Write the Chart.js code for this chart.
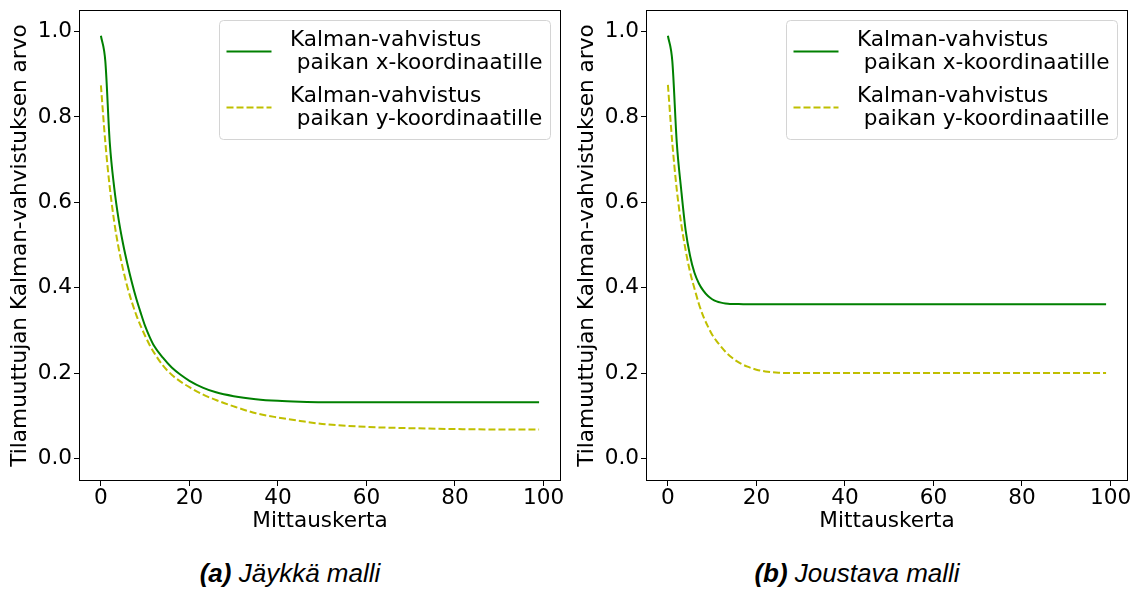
<!DOCTYPE html>
<html><head><meta charset="utf-8">
<script src="https://cdn.jsdelivr.net/npm/chart.js@4.4.1/dist/chart.umd.min.js"></script>
<style>
html,body{margin:0;padding:0;background:#fff;width:1140px;height:589px;overflow:hidden;position:relative;}
.wrap{position:absolute;top:0;width:570px;height:540px;}
.cap{position:absolute;font-family:"Liberation Sans",Arial,sans-serif;font-style:italic;font-size:26px;color:#000;white-space:nowrap;transform:translate(-50%,-50%);}
</style></head><body>
<div class="wrap" style="left:0"><canvas id="ca" width="570" height="540"></canvas></div>
<div class="wrap" style="left:567px"><canvas id="cb" width="570" height="540"></canvas></div>
<div class="cap" style="left:290px;top:573px"><b>(a)</b> Jäykkä malli</div>
<div class="cap" style="left:857px;top:573px"><b>(b)</b> Joustava malli</div>
<script>
// ---- data ----
const stepsA = [0,1,2,3,4,5,6,7,8,9,10,11,12,14,16,18,20,23,26,30,35,40,45,50,60,70,80,90,99];
const gainXA = [0.99,0.93,0.74,0.635,0.56,0.503,0.455,0.412,0.374,0.341,0.31,0.285,0.264,0.236,0.213,0.196,0.182,0.166,0.155,0.146,0.139,0.135,0.133,0.132,0.132,0.132,0.132,0.132,0.132];
const gainYA = [0.874,0.74,0.635,0.555,0.493,0.443,0.401,0.366,0.336,0.31,0.287,0.266,0.248,0.218,0.196,0.18,0.167,0.15,0.137,0.122,0.106,0.096,0.088,0.081,0.074,0.071,0.069,0.068,0.068];

const stepsB = [0,1,2,3,4,5,6,7,8,9,10,11,12,13,14,16,18,20,22,25,30,40,60,80,99];
const gainXB = [0.99,0.93,0.74,0.63,0.535,0.475,0.435,0.41,0.393,0.381,0.373,0.368,0.365,0.363,0.362,0.362,0.361,0.361,0.361,0.361,0.361,0.361,0.361,0.361,0.361];
const gainYB = [0.875,0.738,0.63,0.55,0.488,0.437,0.398,0.362,0.333,0.31,0.29,0.275,0.262,0.25,0.24,0.225,0.215,0.208,0.204,0.201,0.2,0.2,0.2,0.2,0.2];

const xTicks = [0,20,40,60,80,100];
const yTicks = [0.0,0.2,0.4,0.6,0.8,1.0];
const legendX = ['Kalman-vahvistus', ' paikan x-koordinaatille'];
const legendY = ['Kalman-vahvistus', ' paikan y-koordinaatille'];
const xTitle = 'Mittauskerta';
const yTitle = 'Tilamuuttujan Kalman-vahvistuksen arvo';

// ---- rendering ----
const FONT = 'DejaVu Sans';
const FS = 21.6;
Chart.defaults.font.family = FONT;
Chart.defaults.color = '#000';

const framePlugin = {
  id: 'frameLegend',
  afterDraw(chart) {
    const {ctx, chartArea: a} = chart;
    ctx.save();
    ctx.setLineDash([]);
    ctx.strokeStyle = '#000';
    ctx.lineWidth = 1;
    ctx.strokeRect(Math.round(a.left) + 0.5, Math.round(a.top) + 0.5,
                   Math.round(a.right - a.left) - 1, Math.round(a.bottom - a.top) - 1);
    // legend
    const w = 331, h = 119;
    const bx = Math.round(a.right - 11 - w) + 0.5, by = Math.round(a.top + 10) + 0.5;
    ctx.beginPath();
    ctx.roundRect(bx, by, w, h, 4);
    ctx.fillStyle = 'rgba(255,255,255,0.8)';
    ctx.fill();
    ctx.strokeStyle = '#d4d4d4';
    ctx.lineWidth = 1;
    ctx.stroke();
    const centers = [31, 87];
    chart.data.datasets.forEach((ds, i) => {
      const cy = by + centers[i];
      ctx.beginPath();
      ctx.setLineDash(ds.borderDash || []);
      ctx.strokeStyle = ds.borderColor;
      ctx.lineWidth = ds.borderWidth;
      ctx.moveTo(bx + 7, cy);
      ctx.lineTo(bx + 52, cy);
      ctx.stroke();
      ctx.setLineDash([]);
      ctx.fillStyle = '#000';
      ctx.font = FS + 'px "' + FONT + '"';
      ctx.textBaseline = 'middle';
      ctx.textAlign = 'left';
      ds.legendLines.forEach((t, j) => {
        ctx.fillText(t, bx + 70.5, cy - 11.5 + j * 23);
      });
    });
    ctx.restore();
  }
};

function makeChart(id, steps, gx, gy) {
  const toXY = (xs, ys) => xs.map((x, i) => ({x: x, y: ys[i]}));
  return new Chart(document.getElementById(id), {
    type: 'line',
    data: {
      datasets: [
        {label: legendX.join(''), legendLines: legendX, data: toXY(steps, gx), borderColor: '#008000',
         borderWidth: 2, pointRadius: 0, cubicInterpolationMode: 'monotone', fill: false, order: 1},
        {label: legendY.join(''), legendLines: legendY, data: toXY(steps, gy), borderColor: '#bfbf00',
         borderWidth: 2, borderDash: [7, 3], pointRadius: 0, cubicInterpolationMode: 'monotone', fill: false, order: 0}
      ]
    },
    options: {
      responsive: false,
      animation: false,
      devicePixelRatio: 1,
      layout: {padding: {left: 0, right: 9, top: 10, bottom: 0}},
      plugins: {legend: {display: false}, tooltip: {enabled: false}},
      scales: {
        x: {
          type: 'linear', min: -4.95, max: 103.95,
          afterBuildTicks: s => { s.ticks = xTicks.map(v => ({value: v})); },
          afterFit: s => { s.height = 59; s.paddingLeft = 0; s.paddingRight = 0; },
          border: {display: false},
          grid: {drawOnChartArea: false, drawTicks: true, tickLength: 5, color: '#000', lineWidth: 1},
          ticks: {padding: -1, color: '#000', font: {size: FS}, autoSkip: false, maxRotation: 0,
                  callback: v => String(v)},
          title: {display: true, text: xTitle, color: '#000', font: {size: FS}, padding: {top: 0, bottom: 6}}
        },
        y: {
          min: -0.0527, max: 1.0504,
          afterBuildTicks: s => { s.ticks = yTicks.map(v => ({value: v})); },
          afterFit: s => { s.width = 79; s.paddingTop = 0; s.paddingBottom = 0; },
          border: {display: false},
          grid: {drawOnChartArea: false, drawTicks: true, tickLength: 5, color: '#000', lineWidth: 1},
          ticks: {padding: 2, color: '#000', font: {size: FS}, autoSkip: false,
                  callback: v => Number(v).toFixed(1)},
          title: {display: true, text: yTitle, color: '#000', font: {size: FS}, padding: {top: 7, bottom: 0}}
        }
      }
    },
    plugins: [framePlugin]
  });
}

makeChart('ca', stepsA, gainXA, gainYA);
makeChart('cb', stepsB, gainXB, gainYB);
</script>
</body></html>
